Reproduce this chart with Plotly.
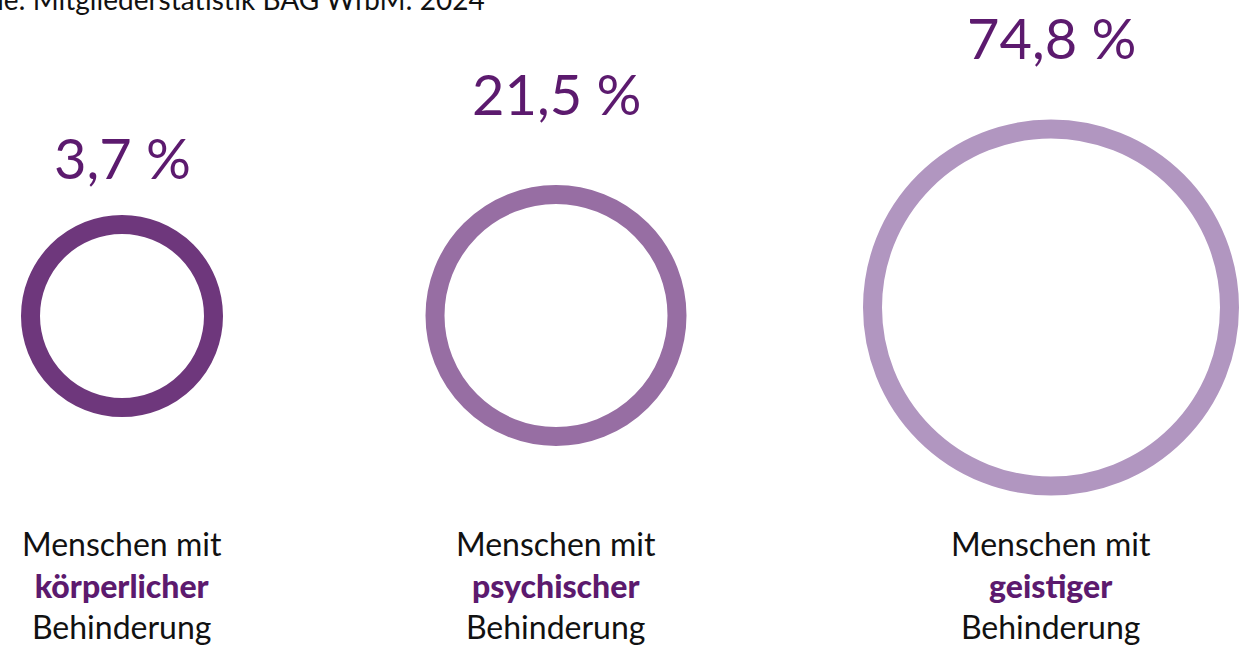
import plotly.graph_objects as go

# ---- data ----
categories = ["körperlicher", "psychischer", "geistiger"]
shares = [3.7, 21.5, 74.8]
source_text = "Quelle: Mitgliederstatistik BAG WfbM: 2024"

# ---- layout / style (pixels) ----
W, H = 1252, 648
centers_x = [122, 556, 1051]
centers_y = [316, 315.5, 307.5]
outer_radius = [101, 130.5, 188]
ring_width = 19
ring_colors = ["#6e377c", "#976ea3", "#b196c0"]
pct_y = [157, 93, 37]
label_y = 585
accent = "#5c1a6e"
FONT = "Lato"

fig = go.Figure()

for i, cat in enumerate(categories):
    size = 2 * (outer_radius[i] - ring_width / 2)
    fig.add_trace(go.Scatter(
        x=[centers_x[i]], y=[centers_y[i]], mode="markers",
        marker=dict(symbol="circle-open", size=size, color=ring_colors[i],
                    line=dict(width=ring_width, color=ring_colors[i])),
        hoverinfo="skip", showlegend=False, name=cat,
    ))
    pct = f"{shares[i]:.1f}".replace(".", ",") + " %"
    fig.add_annotation(x=centers_x[i], y=pct_y[i], text=pct, showarrow=False,
                       xanchor="center", yanchor="middle",
                       font=dict(family=FONT, size=56, color=accent))
    fig.add_annotation(
        x=centers_x[i], y=label_y,
        text=("Menschen mit<br>"
              f"<span style='font-weight:900;color:{accent}'>{cat}</span><br>"
              "Behinderung"),
        showarrow=False, xanchor="center", yanchor="middle", align="center",
        font=dict(family=FONT, size=32, color="#111111"))

fig.add_annotation(x=487 / W, y=1 + 1 / H, xref="paper", yref="paper",
                   text=source_text, showarrow=False,
                   xanchor="right", yanchor="middle",
                   font=dict(family=FONT, size=28, color="#111111"))

fig.update_layout(
    width=W, height=H, margin=dict(l=0, r=0, t=0, b=0),
    paper_bgcolor="white", plot_bgcolor="white",
    xaxis=dict(range=[0, W], visible=False, fixedrange=True),
    yaxis=dict(range=[H, 0], visible=False, fixedrange=True),
)

fig.write_html("out.html")
